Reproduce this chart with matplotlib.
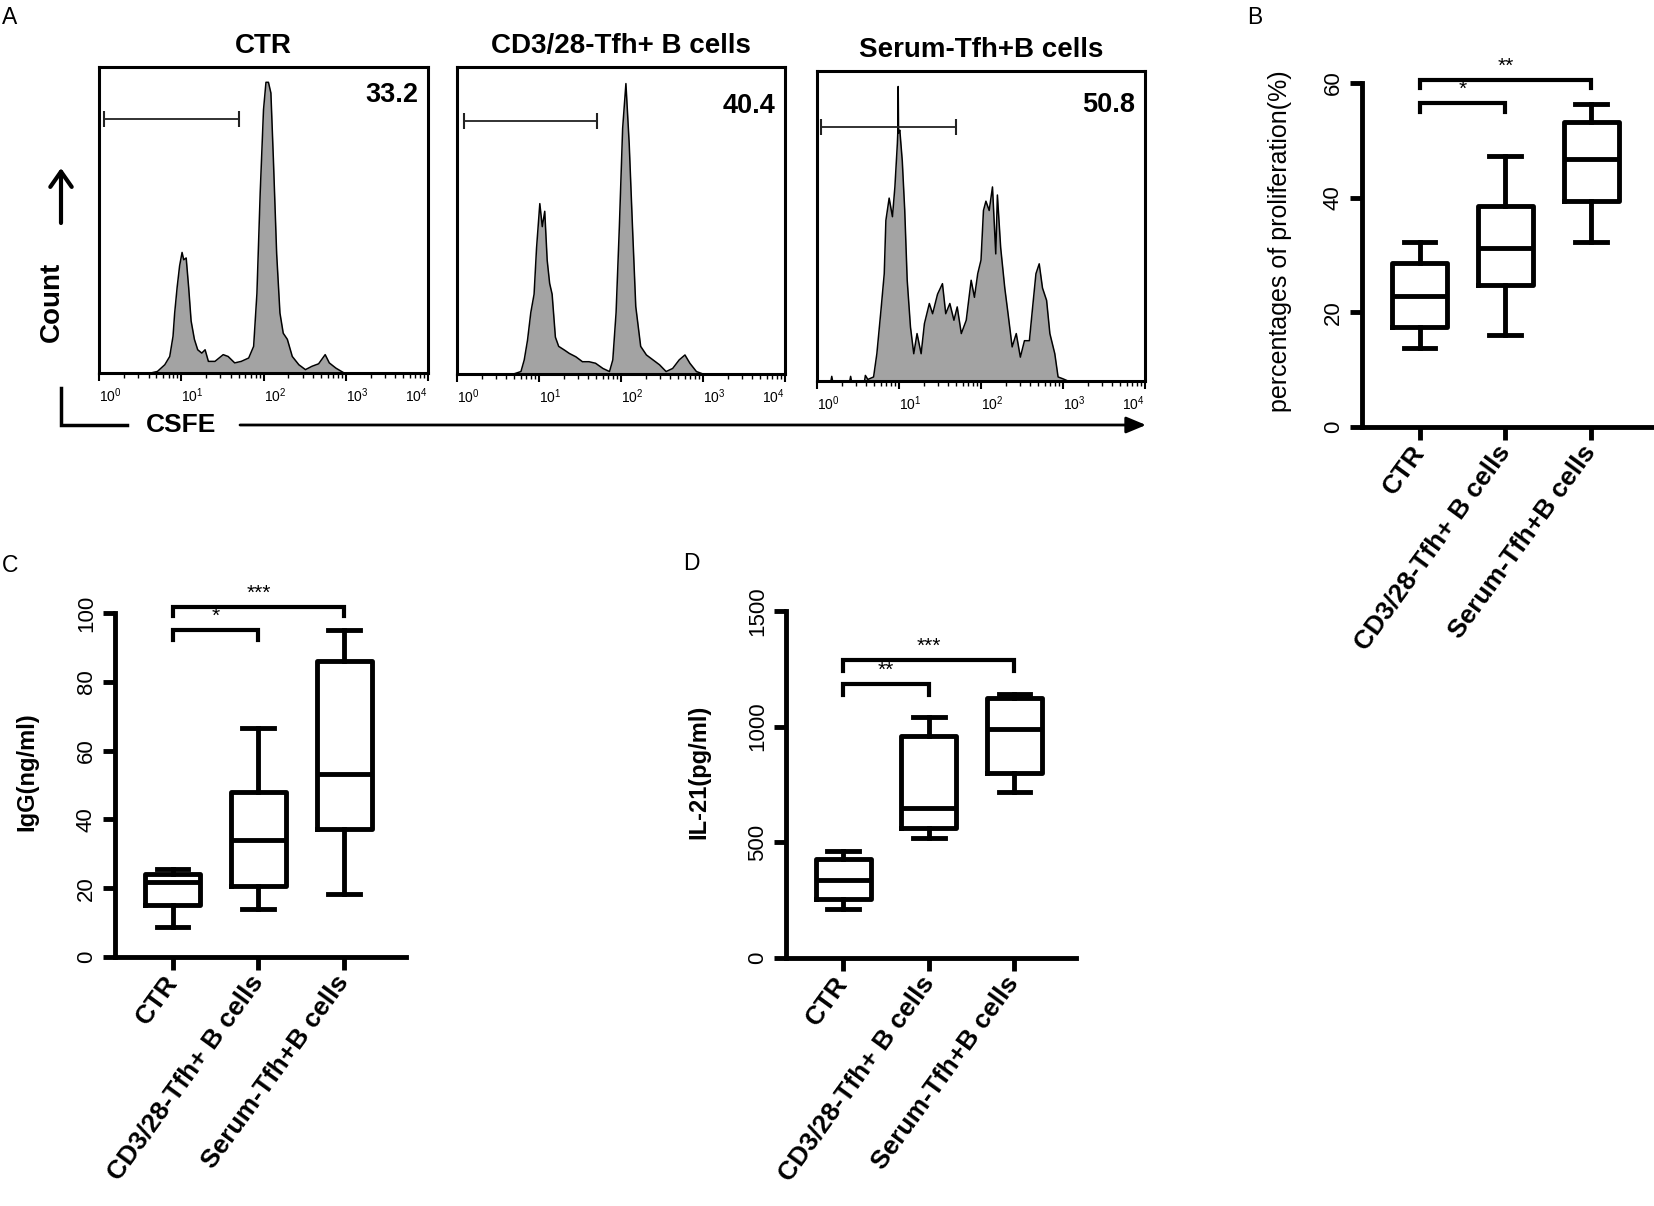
import numpy as np
import matplotlib
matplotlib.use("Agg")
import matplotlib.pyplot as plt
from matplotlib.ticker import LogLocator, NullFormatter

plt.rcParams['font.family'] = ['Liberation Sans', 'DejaVu Sans']
plt.rcParams['mathtext.fontset'] = 'custom'
plt.rcParams['mathtext.rm'] = 'Liberation Sans'
plt.rcParams['mathtext.it'] = 'Liberation Sans:italic'
plt.rcParams['mathtext.bf'] = 'Liberation Sans:bold'

# ---- panel A: CSFE histograms (x in log10 units, counts in % of axis height)
ctr_log = [0.0, 0.63, 0.71, 0.80, 0.86, 0.90, 0.92, 0.95, 0.98, 1.01, 1.03, 1.06, 1.09, 1.12, 1.16,
           1.20, 1.25, 1.29, 1.33, 1.41, 1.51, 1.57, 1.65, 1.73, 1.82, 1.88, 1.92, 1.96, 2.00, 2.03,
           2.06, 2.09, 2.12, 2.16, 2.20, 2.24, 2.29, 2.35, 2.43, 2.51, 2.59, 2.67, 2.75, 2.80, 2.88,
           2.98, 4.0]
ctr_cnt = [0, 0, 0.5, 2.7, 5.4, 12, 19.6, 28, 35, 39.4, 37, 37.6, 28, 17, 11,
           7.6, 6.5, 7.6, 3.8, 3.8, 6, 5.4, 3.3, 3.8, 4.9, 8.7, 26, 59, 86, 95,
           95, 91.5, 70, 39, 19.6, 13, 11, 5.4, 2.7, 1.1, 2.2, 3, 6, 3.3, 1.6,
           0, 0]

cd3_log = [0.0, 0.69, 0.78, 0.82, 0.86, 0.90, 0.94, 0.97, 1.01, 1.04, 1.07, 1.10, 1.13, 1.16, 1.20,
           1.24, 1.31, 1.37, 1.45, 1.53, 1.61, 1.69, 1.78, 1.86, 1.90, 1.94, 1.98, 2.02, 2.06, 2.10,
           2.14, 2.18, 2.24, 2.31, 2.39, 2.47, 2.55, 2.63, 2.71, 2.78, 2.84, 2.92, 3.0, 4.0]
cd3_cnt = [0, 0, 0.8, 4.6, 11, 20, 26, 41, 55.5, 48, 53, 37, 29.5, 26, 12,
           9, 7.8, 6.7, 5.6, 4, 4, 3.5, 1.8, 0.8, 4.6, 20, 48, 80, 94.6, 75,
           48, 22, 9, 6.2, 4.6, 3, 0.8, 1.8, 4.6, 6.2, 3.5, 0.8, 0, 0]

ser_log = [0.0, 0.17, 0.18, 0.19, 0.40, 0.41, 0.42, 0.58, 0.59, 0.62, 0.69, 0.73, 0.78, 0.82, 0.84,
           0.88, 0.92, 0.95, 0.98, 0.985, 0.99, 0.995, 1.01, 1.04, 1.07, 1.10, 1.14, 1.18, 1.22, 1.27,
           1.31, 1.37, 1.41, 1.47, 1.53, 1.57, 1.62, 1.67, 1.71, 1.76, 1.82, 1.88, 1.92, 1.96, 2.00,
           2.03, 2.06, 2.10, 2.14, 2.18, 2.20, 2.24, 2.29, 2.33, 2.38, 2.43, 2.48, 2.53, 2.59, 2.63,
           2.67, 2.71, 2.75, 2.80, 2.84, 2.90, 2.94, 3.00, 3.06, 4.0]
ser_cnt = [0, 0, 1.5, 0, 0, 1.5, 0, 0, 1.8, 0.5, 1.3, 8.8, 22.8, 34.6, 51.8,
           59, 53, 62.6, 76.6, 80, 95, 80, 80.9, 71, 55, 32.5, 17.4, 8.8, 15.3, 8.8,
           18.5, 25, 21.7, 28, 31.4, 21.7, 25, 19.6, 23.9, 15.3, 19.6, 32.5, 27, 34.6, 39,
           55, 58, 55, 62.6, 41, 60, 43, 30, 21.7, 11, 15.3, 7.7, 13, 13, 23.9,
           34.6, 37.8, 30, 26, 15.3, 8.8, 1.3, 0.7, 0, 0]

hist_titles = ["CTR", "CD3/28-Tfh+ B cells", "Serum-Tfh+B cells"]
hist_pct = ["33.2", "40.4", "50.8"]
gate_lo = [0.06, 0.08, 0.05]
gate_hi = [1.70, 1.71, 1.69]
gate_y = [83, 82.3, 82]

# ---- panels B-D: box plot summaries (whislo, q1, med, q3, whishi)
groups = ["CTR", "CD3/28-Tfh+ B cells", "Serum-Tfh+B cells"]
prolif = [[13.8, 17.4, 22.8, 28.6, 32.2],
          [16.1, 24.7, 31.3, 38.5, 47.3],
          [32.2, 39.4, 46.8, 53.2, 56.3]]
igg = [[8.6, 15.0, 21.7, 24.2, 25.5],
       [14.0, 20.5, 33.9, 48.0, 66.6],
       [18.3, 37.2, 53.2, 86.0, 95.0]]
il21 = [[212, 254, 337, 428, 462],
        [520, 560, 650, 960, 1043],
        [716, 798, 990, 1122, 1140]]
# significance: label, group i, group j, bar height, leg bottom
sig_b = [("*", 0, 1, 56.5, 54.9), ("**", 0, 2, 60.5, 59.1)]
sig_c = [("*", 0, 1, 95.0, 92.2), ("***", 0, 2, 101.8, 99.1)]
sig_d = [("**", 0, 1, 1183, 1137), ("***", 0, 2, 1288, 1242)]

W, H = 1654, 1206
fig = plt.figure(figsize=(W / 100, H / 100), dpi=100)


def px_rect(left, top, right, bottom):
    return [left / W, 1 - bottom / H, (right - left) / W, (bottom - top) / H]


def hist_panel(rect, title, logs, cnt, k, pct_y):
    ax = fig.add_axes(rect)
    x = 10 ** np.array(logs)
    ax.fill_between(x, cnt, color='#a3a3a3', lw=0)
    ax.plot(x, cnt, color='black', lw=1.1)
    ax.set_xscale('log')
    ax.set_xlim(1, 1e4)
    ax.set_ylim(0, 100)
    ax.set_yticks([])
    for s in ax.spines.values():
        s.set_linewidth(2.2)
    ax.xaxis.set_minor_locator(LogLocator(base=10, subs=np.arange(2, 10)))
    ax.xaxis.set_minor_formatter(NullFormatter())
    ax.set_xticks([1, 10, 100, 1000, 10000],
                  [r'$10^{0}$', r'$10^{1}$', r'$10^{2}$', r'$10^{3}$', r'$10^{4}$'])
    ax.tick_params(axis='x', which='major', length=6, width=1.5, labelsize=10, pad=4)
    ax.tick_params(axis='x', which='minor', length=3.5, width=1)
    labs = ax.get_xticklabels()
    for lab in labs[:-1]:
        lab.set_ha('left')
    labs[-1].set_ha('right')
    # gate
    gx = [10 ** gate_lo[k], 10 ** gate_hi[k]]
    ax.plot(gx, [gate_y[k]] * 2, color='#222222', lw=1.3)
    ax.plot(gx, [gate_y[k]] * 2, ls='none', marker='|', ms=11, mew=1.5, color='#222222')
    ax.text(0.97, pct_y, hist_pct[k], transform=ax.transAxes, ha='right', va='top',
            fontsize=19.5, fontweight='bold')
    ax.set_title(title, fontsize=20, fontweight='bold', pad=10)
    return ax


hist_panel(px_rect(99, 67, 428, 373), hist_titles[0], ctr_log, ctr_cnt, 0, 0.951)
hist_panel(px_rect(457, 67, 785, 374), hist_titles[1], cd3_log, cd3_cnt, 1, 0.915)
hist_panel(px_rect(817, 71, 1145, 381), hist_titles[2], ser_log, ser_cnt, 2, 0.932)


def box_panel(rect, data, ymax, yticks, ylabel, lab_kw, lab_xy, sig):
    ax = fig.add_axes(rect)
    stats = [dict(whislo=d[0], q1=d[1], med=d[2], q3=d[3], whishi=d[4]) for d in data]
    lw = 3.5
    ax.bxp(stats, positions=[1, 2, 3], widths=0.64, capwidths=0.37, showfliers=False,
           boxprops=dict(lw=lw, color='black'), whiskerprops=dict(lw=lw, color='black'),
           capprops=dict(lw=lw, color='black'), medianprops=dict(lw=lw, color='black'))
    ax.set_xlim(0.33, 3.72)
    ax.set_ylim(0, ymax)
    ax.spines['top'].set_visible(False)
    ax.spines['right'].set_visible(False)
    ax.spines['left'].set_linewidth(lw)
    ax.spines['bottom'].set_linewidth(lw)
    ax.spines['left'].set_bounds(0, ymax)
    ax.set_yticks(yticks, [str(t) for t in yticks])
    ax.tick_params(axis='y', length=9, width=lw, labelsize=16, labelrotation=90, pad=4)
    for lab in ax.get_yticklabels():
        lab.set_va('center')
    ax.set_xticks([1, 2, 3], groups, rotation=54, ha='right', va='center',
                  rotation_mode='anchor', fontsize=19, fontweight='bold')
    ax.tick_params(axis='x', length=9, width=lw, pad=6)
    ax.set_ylabel(ylabel, **lab_kw)
    ax.yaxis.set_label_coords(*lab_xy)
    for text, i, j, y, y0 in sig:
        ax.plot([i + 1, i + 1, j + 1, j + 1], [y0, y, y, y0], color='black', lw=3,
                clip_on=False, solid_joinstyle='miter')
        ax.annotate(text, xy=((i + j) / 2 + 1, y), xytext=(0, 3), textcoords='offset points',
                    ha='center', va='bottom', fontsize=15, annotation_clip=False)
    return ax


box_panel(px_rect(1362, 83, 1653, 427), prolif, 60, [0, 20, 40, 60],
          "percentages of proliferation(%)", dict(fontsize=18), (-0.24, 0.54), sig_b)
box_panel(px_rect(115, 613, 406, 957), igg, 100, [0, 20, 40, 60, 80, 100],
          "IgG(ng/ml)", dict(fontsize=17, fontweight='bold'), (-0.265, 0.54), sig_c)
box_panel(px_rect(786, 611, 1076, 958), il21, 1500, [0, 500, 1000, 1500],
          "IL-21(pg/ml)", dict(fontsize=17, fontweight='bold'), (-0.26, 0.537), sig_d)

# ---- overlay for panel letters and the Count / CSFE axes of panel A
ov = fig.add_axes([0, 0, 1, 1])
ov.set_xlim(0, W)
ov.set_ylim(H, 0)
ov.axis('off')
for letter, lx, ly in [("A", 2, 17), ("B", 1247, 17), ("C", 2, 565), ("D", 683, 564)]:
    ov.text(lx, ly, letter, ha='left', va='center', fontsize=16.5)
ov.text(52, 302, "Count", rotation=90, ha='center', va='center', fontsize=20, fontweight='bold')
ov.annotate('', xy=(61, 168), xytext=(61, 223),
            arrowprops=dict(arrowstyle='->,head_length=0.5,head_width=0.35', lw=3, color='black',
                            shrinkA=0, shrinkB=0, mutation_scale=22))
ov.plot([61, 61, 127], [388, 425, 425], color='black', lw=2.5, solid_joinstyle='miter')
ov.text(181, 425, "CSFE", ha='center', va='center', fontsize=19, fontweight='bold')
ov.annotate('', xy=(1146, 425), xytext=(240, 425),
            arrowprops=dict(arrowstyle='-|>,head_length=0.6,head_width=0.25', lw=2, color='black',
                            shrinkA=0, shrinkB=0, mutation_scale=20))

fig.savefig("out.png", dpi=100)
